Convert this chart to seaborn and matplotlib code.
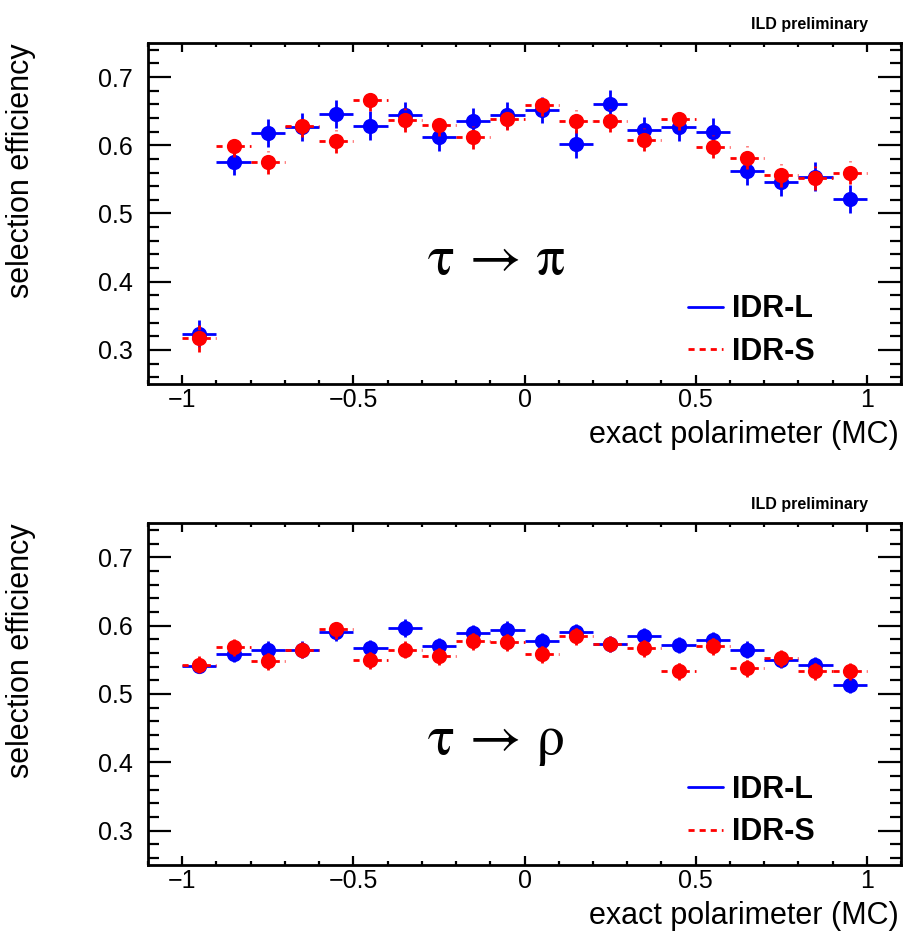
import matplotlib
matplotlib.use("Agg")
import matplotlib.pyplot as plt
import numpy as np
import pandas as pd
import seaborn as sns
from matplotlib.lines import Line2D
from matplotlib.ticker import MultipleLocator

# ---------------- data ----------------
bin_centers = [-0.95, -0.85, -0.75, -0.65, -0.55, -0.45, -0.35, -0.25, -0.15, -0.05,
               0.05, 0.15, 0.25, 0.35, 0.45, 0.55, 0.65, 0.75, 0.85, 0.95]
bin_half_width = 0.05

# tau -> pi
pi_L = [0.324, 0.575, 0.618, 0.627, 0.646, 0.629, 0.644, 0.612, 0.635, 0.644,
        0.652, 0.602, 0.661, 0.622, 0.627, 0.620, 0.563, 0.546, 0.554, 0.521]
pi_L_err = [0.020, 0.019, 0.021, 0.020, 0.020, 0.021, 0.020, 0.020, 0.020, 0.020,
            0.019, 0.020, 0.020, 0.020, 0.020, 0.020, 0.021, 0.021, 0.021, 0.021]
pi_S = [0.317, 0.599, 0.575, 0.628, 0.606, 0.666, 0.637, 0.630, 0.612, 0.639,
        0.659, 0.635, 0.636, 0.608, 0.638, 0.598, 0.582, 0.556, 0.552, 0.560]
pi_S_err = [0.020, 0.016, 0.017, 0.016, 0.017, 0.016, 0.017, 0.016, 0.017, 0.016,
            0.016, 0.017, 0.017, 0.017, 0.016, 0.017, 0.017, 0.017, 0.018, 0.017]

# tau -> rho
rho_L = [0.541, 0.559, 0.565, 0.565, 0.590, 0.567, 0.597, 0.570, 0.589, 0.594,
         0.577, 0.590, 0.573, 0.585, 0.572, 0.579, 0.565, 0.550, 0.542, 0.513]
rho_L_err = [0.011, 0.012, 0.012, 0.012, 0.013, 0.012, 0.013, 0.012, 0.012, 0.012,
             0.012, 0.012, 0.012, 0.012, 0.012, 0.012, 0.012, 0.012, 0.012, 0.012]
rho_S = [0.543, 0.568, 0.548, 0.564, 0.595, 0.550, 0.565, 0.556, 0.578, 0.576,
         0.559, 0.585, 0.573, 0.567, 0.534, 0.570, 0.538, 0.552, 0.534, 0.533]
rho_S_err = [0.012, 0.013, 0.013, 0.012, 0.014, 0.013, 0.013, 0.013, 0.013, 0.013,
             0.013, 0.013, 0.012, 0.013, 0.013, 0.013, 0.013, 0.013, 0.013, 0.013]

samples = ["IDR-L", "IDR-S"]
panel_titles = ["\u03c4 \u2192 \u03c0", "\u03c4 \u2192 \u03c1"]
x_ticks = [-1, -0.5, 0, 0.5, 1]
x_tick_labels = ["\u22121", "\u22120.5", "0", "0.5", "1"]
y_ticks = [0.3, 0.4, 0.5, 0.6, 0.7]
y_tick_labels = ["0.3", "0.4", "0.5", "0.6", "0.7"]

# ---------------- style ----------------
sns.set_style("ticks")
plt.rcParams["font.family"] = ["Liberation Sans", "DejaVu Sans"]
for key in ["text.color", "axes.labelcolor", "xtick.color", "ytick.color",
            "axes.edgecolor"]:
    plt.rcParams[key] = "black"

colors = {"IDR-L": "#0000ff", "IDR-S": "#ff0000"}
dash = (0, (2.2, 1.8))

fig = plt.figure(figsize=(9.04, 9.4), dpi=100)
ax_top = fig.add_axes([0.16372, 0.59149, 0.8330, 0.36277])
ax_bot = fig.add_axes([0.16372, 0.07979, 0.8330, 0.36383])

panels = [
    (ax_top, pi_L, pi_L_err, pi_S, pi_S_err, panel_titles[0], 1 - 29 / 940),
    (ax_bot, rho_L, rho_L_err, rho_S, rho_S_err, panel_titles[1], 1 - 509 / 940),
]

for ax, yL, eL, yS, eS, title, ild_y in panels:
    frames = []
    for name, yv, ev in [("IDR-L", yL, eL), ("IDR-S", yS, eS)]:
        frames.append(pd.DataFrame({"x": bin_centers, "eff": yv, "err": ev, "sample": name}))
    df = pd.concat(frames, ignore_index=True)

    z = 2
    for name in samples:
        sub = df[df["sample"] == name]
        eb = ax.errorbar(sub["x"], sub["eff"], xerr=bin_half_width, yerr=sub["err"],
                         fmt="none", ecolor=colors[name], elinewidth=2.0,
                         capsize=0, zorder=z)
        if name == "IDR-S":
            for lc in eb[2]:
                lc.set_linestyle(dash)
        sns.scatterplot(data=sub, x="x", y="eff", color=colors[name], s=120,
                        linewidth=0, legend=False, ax=ax, zorder=z + 1)
        z += 2

    ax.set_xlim(-1.1, 1.1)
    ax.set_ylim(0.25, 0.75)
    ax.set_xticks(x_ticks)
    ax.set_xticklabels(x_tick_labels)
    ax.set_yticks(y_ticks)
    ax.set_yticklabels(y_tick_labels)
    ax.xaxis.set_minor_locator(MultipleLocator(0.1))
    ax.yaxis.set_minor_locator(MultipleLocator(0.02))
    ax.tick_params(axis="both", which="both", direction="in", top=True, right=True,
                   width=1.6, color="black", labelcolor="black")
    ax.tick_params(axis="x", which="major", length=6.5, labelsize=18, pad=3)
    ax.tick_params(axis="x", which="minor", length=3.2)
    ax.tick_params(axis="y", which="major", length=16.3, labelsize=18, pad=11)
    ax.tick_params(axis="y", which="minor", length=8)
    for sp in ax.spines.values():
        sp.set_visible(True)
        sp.set_linewidth(2.0)
        sp.set_color("black")

    ax.set_xlabel("exact polarimeter (MC)", fontsize=22, loc="right", color="black")
    ax.xaxis.set_label_coords(0.9973, -0.105)
    ax.set_ylabel("selection efficiency", fontsize=22, loc="top", color="black")
    ax.yaxis.set_label_coords(-0.149, 1.0)

    ax.text(-0.083, 0.412, title, fontsize=41, ha="center", va="baseline",
            family=["STIXGeneral", "DejaVu Serif"], color="black")

    handles = [Line2D([], [], color=colors["IDR-L"], lw=2.0),
               Line2D([], [], color=colors["IDR-S"], lw=2.0, ls=dash)]
    ax.legend(handles=handles, labels=samples, loc="upper left",
              bbox_to_anchor=(0.717, 0.263), frameon=False, borderpad=0,
              borderaxespad=0, handlelength=1.15, handletextpad=0.3,
              labelspacing=0.4, prop={"weight": "bold", "size": 22},
              labelcolor="black")

    fig.text(868 / 904, ild_y, "ILD preliminary", ha="right", va="baseline",
             fontsize=11.5, fontweight="bold", color="black")

fig.savefig("out.png", dpi=100)
